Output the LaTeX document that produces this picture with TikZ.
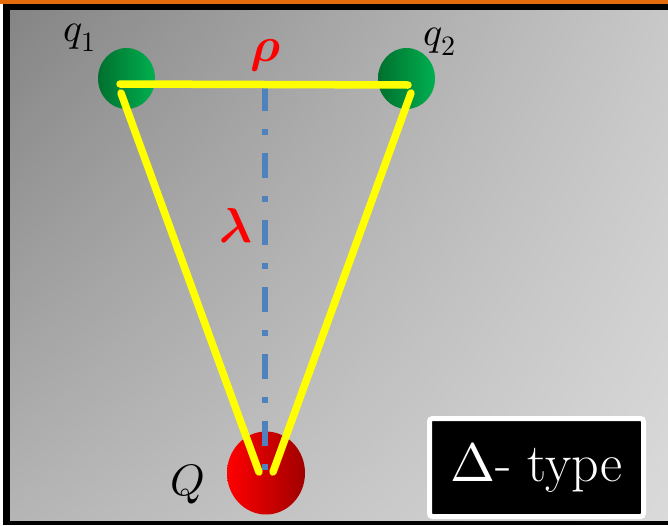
\documentclass[tikz,border=0pt]{standalone}
\usepackage{unicode-math}
\setmathfont{Latin Modern Math}
\usetikzlibrary{shapes.geometric,shadings}
\definecolor{framebar}{HTML}{E46C0A}
\definecolor{bgTL}{HTML}{848484}
\definecolor{bgTR}{HTML}{C8C8C8}
\definecolor{bgBL}{HTML}{B5B5B5}
\definecolor{bgBR}{HTML}{DADADA}
\definecolor{gdark}{HTML}{00702E}
\definecolor{glight}{HTML}{00B050}
\definecolor{rdark}{HTML}{A00000}
\definecolor{rlight}{HTML}{FF0000}
\definecolor{axisblue}{HTML}{4F81BD}
\definecolor{bond}{HTML}{FFFF00}
\tikzset{
  gsph/.style={ellipse,minimum width=57pt,minimum height=61pt,inner sep=0pt,left color=gdark,right color=glight},
  rsph/.style={ellipse,minimum width=78pt,minimum height=83pt,inner sep=0pt,left color=rlight,right color=rdark},
  bondline/.style={draw=bond,line width=7.5pt,line cap=round,line join=round},
  axisline/.style={draw=axisblue,line width=5.5pt,dash pattern=on 25pt off 18pt on 6pt off 18pt},
  charge/.style={inner sep=0pt,font=\fontsize{40}{40}\selectfont},
  param/.style={inner sep=0pt,text=red,font=\fontsize{49}{49}\selectfont},
  typebox/.style={draw=white,line width=5pt,fill=black,rounded corners=3pt,minimum width=214pt,minimum height=98pt,inner sep=0pt,text=white,font=\fontsize{54}{54}\selectfont}
}
\begin{document}
\begin{tikzpicture}[x=1pt,y=-1pt]
\useasboundingbox (0,0) rectangle (668,525);
% background
\shade[upper left=bgTL,upper right=bgTR,lower left=bgBL,lower right=bgBR] (6,7) rectangle (668,522);
% frame
\fill[white] (0,0) rectangle (3,525);
\fill[black] (3,4) rectangle (668,10);
\fill[black] (3,4) rectangle (10,525);
\fill[black] (3,521) rectangle (668,525);
\fill[framebar] (0,0) rectangle (668,4);
% spheres
\node[gsph] (q1) at (126.5,78.5) {};
\node[gsph] (q2) at (406.5,78.5) {};
\node[rsph] (Q) at (266,473) {};
% axis
\coordinate (axTop) at (265,86);
\coordinate (axBot) at (265,470);
\draw[axisline] (axTop) -- (axBot);
% bonds
\coordinate (t1) at (120,84);
\coordinate (t2) at (408,85);
\coordinate (l1) at (121,93);
\coordinate (l2) at (259,472);
\coordinate (r1) at (411,93);
\coordinate (r2) at (273,472);
\draw[bondline] (t1) -- (t2);
\draw[bondline] (l1) -- (l2);
\draw[bondline] (r1) -- (r2);
% labels
\node[charge] (lq1) at (80,38) {$q_1$};
\node[charge] (lq2) at (440,42) {$q_2$};
\node[charge,font=\fontsize{44}{44}\selectfont] (lQ) at (188,484) {$Q$};
\node[param] (lrho) at (266,56) {$\symbfit{\rho}$};
\node[param] (llam) at (236,226) {$\symbfit{\lambda}$};
% type box
\node[typebox] (tb) at (536.5,467.5) {$\Delta$- type};
\end{tikzpicture}
\end{document}
